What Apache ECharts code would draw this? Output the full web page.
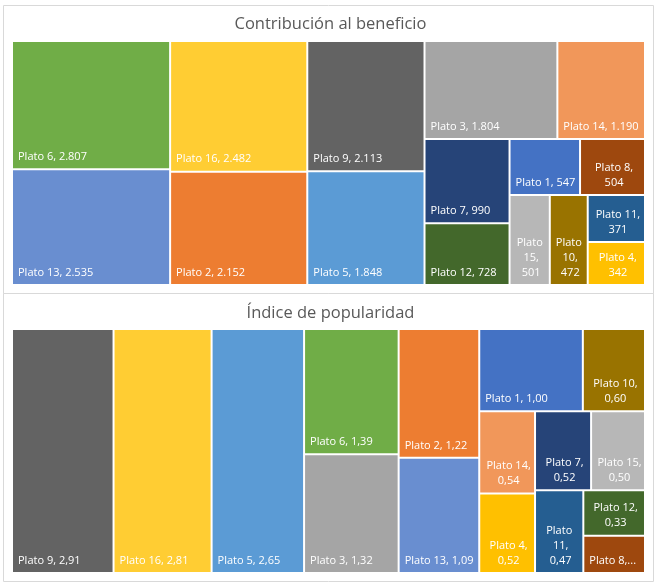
<!DOCTYPE html>
<html><head><meta charset="utf-8">
<script src="https://cdn.jsdelivr.net/npm/echarts@6/dist/echarts.min.js"></script>
<style>html,body{margin:0;padding:0;background:#fff}#c{width:661px;height:586px}</style>
</head><body><div id="c"></div>
<script>
// ---- data ----
const platos = ['Plato 1','Plato 2','Plato 3','Plato 5','Plato 6','Plato 7','Plato 4','Plato 8','Plato 9','Plato 10','Plato 11','Plato 12','Plato 13','Plato 14','Plato 15','Plato 16'];
const beneficio = [547, 2152, 1804, 1848, 2807, 990, 342, 504, 2113, 472, 371, 728, 2535, 1190, 501, 2482];
const popularidad = [1.00, 1.22, 1.32, 2.65, 1.39, 0.52, 0.52, 0.27, 2.91, 0.60, 0.47, 0.33, 1.09, 0.54, 0.50, 2.81];
const titles = ['Contribución al beneficio', 'Índice de popularidad'];

// ---- styles ----
const platoColors = {
  'Plato 1':'#4472C4','Plato 2':'#ED7D31','Plato 3':'#A5A5A5','Plato 4':'#FFC000',
  'Plato 5':'#5B9BD5','Plato 6':'#70AD47','Plato 7':'#264478','Plato 8':'#9E480E',
  'Plato 9':'#636363','Plato 10':'#997300','Plato 11':'#255E91','Plato 12':'#43682B',
  'Plato 13':'#698ED0','Plato 14':'#F1975A','Plato 15':'#B7B7B7','Plato 16':'#FFCD33'
};
const centered1 = ['Plato 8','Plato 15','Plato 10','Plato 11','Plato 4'];
const centered2 = ['Plato 10','Plato 14','Plato 7','Plato 15','Plato 4','Plato 11','Plato 12'];
const truncated2 = ['Plato 8'];

function fmtThousands(v){ return String(v).replace(/\B(?=(\d{3})+(?!\d))/g, '.'); }
function fmtDec(v){ return v.toFixed(2).replace('.', ','); }

function buildData(values, centered, truncated, fmt){
  return platos.map((n,i)=>{
    const d = { name:n, value:values[i], itemStyle:{ color: platoColors[n] } };
    if (centered.indexOf(n) >= 0) d.label = { position:'insideBottom', align:'center', formatter: p => p.name + ',\n' + fmt(p.value) };
    if (truncated.indexOf(n) >= 0) d.label = { overflow:'truncate', ellipsis:'...', formatter: p => p.name + ',' + fmt(p.value) };
    return d;
  });
}

const labelBase = {
  show:true, position:'insideBottomLeft', color:'#fff', fontFamily:'Open Sans', fontSize:11,
  padding:[3,2,4,5], distance:0, overflow:'break', lineOverflow:'truncate', lineHeight:15
};

function tm(top, height, data, fmt){
  return {
    type:'treemap', left:13, top:top, width:631, height:height,
    roam:false, nodeClick:false, breadcrumb:{show:false}, sort:'desc',
    squareRatio:0.76, animation:false,
    itemStyle:{ borderWidth:0, gapWidth:2, borderColor:'#fff' },
    levels:[{ itemStyle:{ borderWidth:0, gapWidth:2 } }, { itemStyle:{ borderWidth:0 } }],
    label: Object.assign({}, labelBase, { formatter: p => p.name + ', ' + fmt(p.value) }),
    emphasis:{ disabled:true },
    data:data
  };
}

const chart = echarts.init(document.getElementById('c'), null, {renderer:'canvas'});
chart.setOption({
  animation:false,
  title:[
    { text:titles[0], left:'center', top:11, textStyle:{ fontFamily:'Open Sans', fontSize:16.5, fontWeight:'normal', color:'#595959' } },
    { text:titles[1], left:'center', top:300, textStyle:{ fontFamily:'Open Sans', fontSize:16.5, fontWeight:'normal', color:'#595959' } }
  ],
  graphic:[
    { type:'rect', shape:{x:3.5,y:5.5,width:650,height:288}, style:{fill:null, stroke:'#D9D9D9', lineWidth:1}, silent:true },
    { type:'rect', shape:{x:3.5,y:293.5,width:650,height:288}, style:{fill:null, stroke:'#D9D9D9', lineWidth:1}, silent:true }
  ],
  series:[
    tm(42, 242, buildData(beneficio, centered1, [], fmtThousands), fmtThousands),
    tm(330, 242, buildData(popularidad, centered2, truncated2, fmtDec), fmtDec)
  ]
});
</script></body></html>
